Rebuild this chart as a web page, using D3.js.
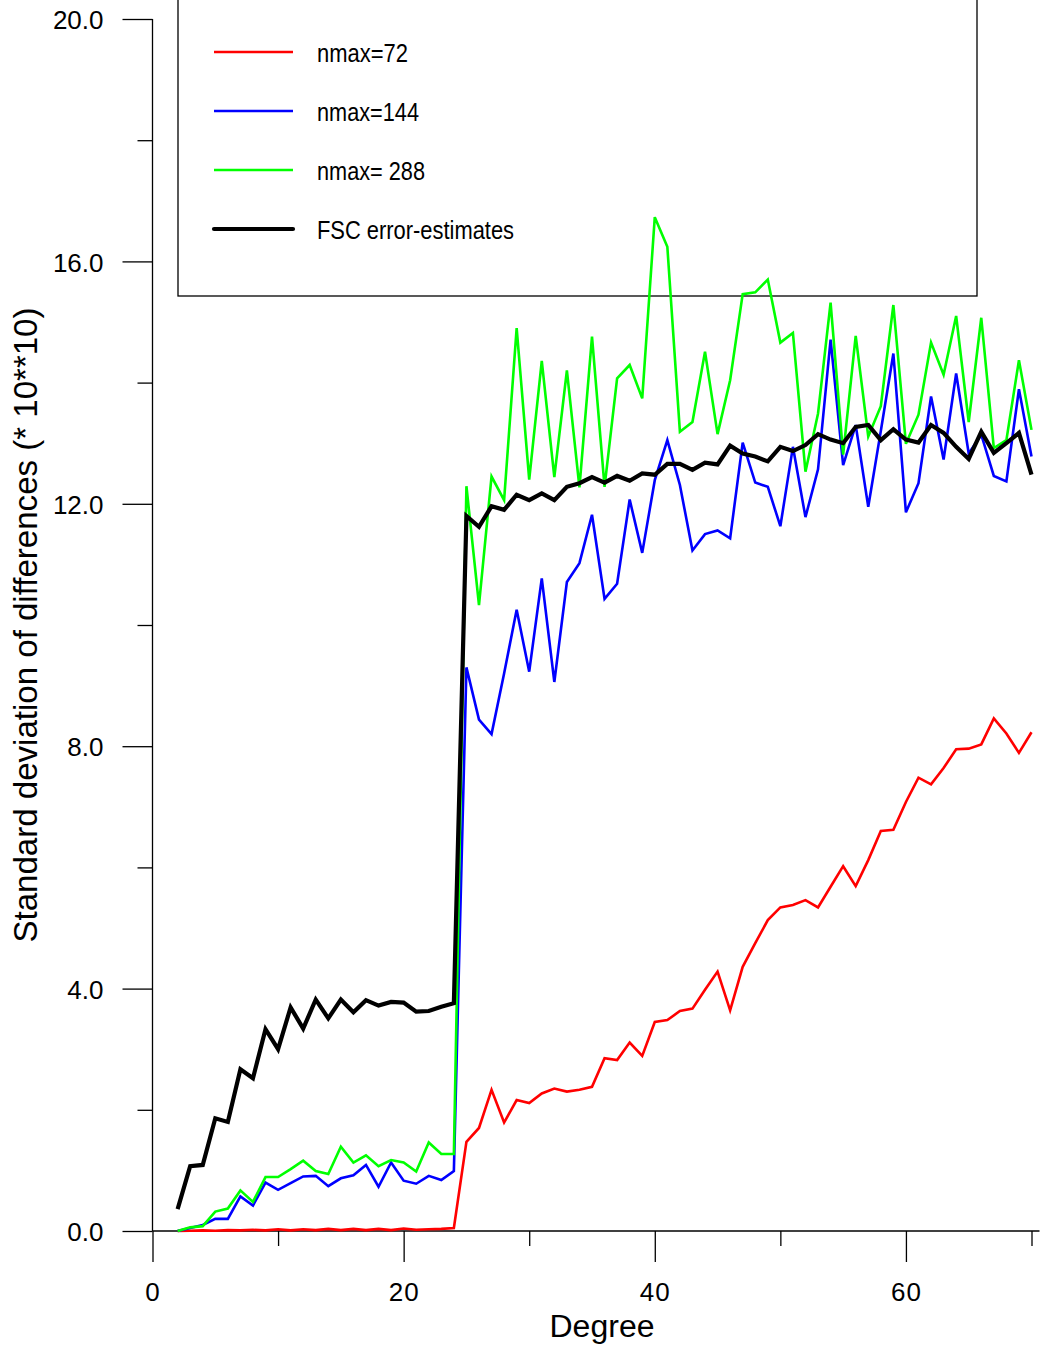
<!DOCTYPE html>
<html>
<head>
<meta charset="utf-8">
<script src="https://cdn.jsdelivr.net/npm/d3@7"></script>
<style>
  html, body { margin: 0; padding: 0; background: #fff; }
  svg { display: block; }
  text { font-family: "Liberation Sans", Arial, sans-serif; fill: #000; }
</style>
</head>
<body>
<svg id="chart" width="1049" height="1351"></svg>
<script>
// ---- data ----
const degrees = [2,3,4,5,6,7,8,9,10,11,12,13,14,15,16,17,18,19,20,21,22,23,24,
  25,26,27,28,29,30,31,32,33,34,35,36,37,38,39,40,41,42,43,44,45,46,47,48,
  49,50,51,52,53,54,55,56,57,58,59,60,61,62,63,64,65,66,67,68,69,70];

const nmax72 = [0.00,0.005,0.01,0.005,0.015,0.01,0.02,0.01,0.03,0.01,0.03,0.015,0.035,0.015,0.035,0.015,0.035,0.015,0.04,0.02,0.03,0.035,0.05,
  1.47,1.70,2.33,1.79,2.16,2.11,2.27,2.35,2.30,2.33,2.38,2.85,2.82,3.11,2.89,3.45,3.48,3.63,3.67,3.98,4.28,3.64,4.36,4.75,
  5.13,5.34,5.38,5.46,5.34,5.68,6.02,5.69,6.12,6.60,6.62,7.08,7.48,7.37,7.64,7.95,7.96,8.03,8.46,8.21,7.89,8.23];

const nmax144 = [0.00,0.05,0.10,0.20,0.20,0.57,0.42,0.80,0.68,0.79,0.90,0.91,0.74,0.87,0.92,1.09,0.73,1.13,0.83,0.78,0.91,0.84,0.99,
  9.30,8.44,8.20,9.20,10.25,9.23,10.77,9.06,10.71,11.02,11.82,10.43,10.68,12.07,11.19,12.39,13.05,12.31,11.23,11.50,11.56,11.43,13.01,12.35,
  12.28,11.63,12.94,11.78,12.57,14.71,12.64,13.30,11.95,13.20,14.48,11.86,12.34,13.77,12.73,14.15,12.83,13.14,12.46,12.37,13.89,12.78];

const nmax288 = [0.00,0.06,0.08,0.32,0.37,0.67,0.48,0.89,0.89,1.02,1.16,0.99,0.94,1.39,1.13,1.25,1.07,1.17,1.13,0.98,1.46,1.27,1.27,
  12.29,10.33,12.45,12.06,14.90,12.40,14.36,12.44,14.20,12.27,14.76,12.28,14.07,14.29,13.74,16.73,16.24,13.19,13.35,14.51,13.15,14.04,15.46,15.49,
  15.70,14.66,14.82,12.53,13.49,15.32,12.81,14.77,13.11,13.61,15.28,12.99,13.47,14.66,14.13,15.10,13.35,15.07,12.92,13.05,14.37,13.22];

const fscError = [0.36,1.07,1.09,1.86,1.80,2.67,2.52,3.33,3.00,3.69,3.34,3.82,3.51,3.82,3.61,3.81,3.72,3.78,3.77,3.62,3.63,3.70,3.76,
  11.80,11.62,11.96,11.90,12.15,12.06,12.17,12.06,12.28,12.34,12.44,12.35,12.46,12.38,12.50,12.48,12.66,12.66,12.56,12.68,12.65,12.96,12.83,12.78,
  12.70,12.94,12.87,12.97,13.15,13.06,13.00,13.27,13.30,13.05,13.23,13.06,13.01,13.30,13.17,12.94,12.74,13.19,12.84,13.00,13.17,12.48];

const seriesNames = ["nmax=72", "nmax=144", "nmax= 288", "FSC error-estimates"];
const seriesColors = ["#ff0000", "#0000ff", "#00ff00", "#000000"];
const seriesWidths = [2.6, 2.6, 2.6, 4.2];
const legendTextLengths = [91, 102, 108, 197];

const xMajorTicks = [0, 20, 40, 60];
const xMinorTicks = [10, 30, 50, 70];
const yMajorTicks = [0, 4, 8, 12, 16, 20];
const yMinorTicks = [2, 6, 10, 14, 18];

const xTitle = "Degree";
const yTitle = "Standard deviation of differences (* 10**10)";

// ---- scales ----
const svg = d3.select("#chart");
const x = d3.scaleLinear().domain([0, 70]).range([152.5, 1031.5]);
const y = d3.scaleLinear().domain([0, 20]).range([1231, 19]);

// ---- legend (drawn first so the data lines pass over its frame) ----
const legend = svg.append("g");
legend.append("rect").attr("x", 178).attr("y", -20).attr("width", 799).attr("height", 316)
  .attr("fill", "none").attr("stroke", "#000").attr("stroke-width", 1.3);
const legendY = d3.scalePoint().domain(seriesNames).range([52, 229]);
seriesNames.forEach((name, k) => {
  legend.append("line")
    .attr("x1", 214).attr("x2", 293)
    .attr("y1", legendY(name)).attr("y2", legendY(name))
    .attr("stroke", seriesColors[k]).attr("stroke-width", seriesWidths[k])
    .attr("stroke-linecap", k === 3 ? "round" : "butt");
  legend.append("text")
    .attr("x", 317).attr("y", legendY(name) + 10)
    .attr("font-size", 26)
    .attr("textLength", legendTextLengths[k]).attr("lengthAdjust", "spacingAndGlyphs")
    .text(name);
});

// ---- axes ----
const axisStyle = g => {
  g.select(".domain").remove();
  g.selectAll(".tick line").attr("stroke", "#000").attr("stroke-width", 1.3);
  g.selectAll("text").attr("font-size", 26).attr("font-family", '"Liberation Sans", Arial, sans-serif');
};

svg.append("g").attr("transform", `translate(${x(0)},0)`)
  .call(d3.axisLeft(y).tickValues(yMajorTicks).tickSize(30).tickSizeOuter(0).tickPadding(19).tickFormat(d3.format(".1f")))
  .call(axisStyle)
  .call(g => g.selectAll("text").attr("dy", "0.37em"));

svg.append("g").attr("transform", `translate(${x(0)},0)`)
  .call(d3.axisLeft(y).tickValues(yMinorTicks).tickSize(15).tickSizeOuter(0).tickFormat(""))
  .call(axisStyle);

svg.append("g").attr("transform", `translate(0,${y(0)})`)
  .call(d3.axisBottom(x).tickValues(xMajorTicks).tickSize(31).tickSizeOuter(0).tickPadding(21).tickFormat(d3.format("d")))
  .call(axisStyle)
  .call(g => g.selectAll("text").attr("letter-spacing", 1));

svg.append("g").attr("transform", `translate(0,${y(0)})`)
  .call(d3.axisBottom(x).tickValues(xMinorTicks).tickSize(15).tickSizeOuter(0).tickFormat(""))
  .call(axisStyle);

// axis lines
svg.append("line").attr("x1", x(0)).attr("x2", x(0)).attr("y1", y(20)).attr("y2", y(0))
  .attr("stroke", "#000").attr("stroke-width", 1.3);
svg.append("line").attr("x1", x(0)).attr("x2", x(70) + 8).attr("y1", y(0)).attr("y2", y(0))
  .attr("stroke", "#000").attr("stroke-width", 1.3);

// titles
svg.append("text").attr("x", 602).attr("y", 1337).attr("text-anchor", "middle")
  .attr("font-size", 31).attr("textLength", 105).attr("lengthAdjust", "spacingAndGlyphs")
  .text(xTitle);

svg.append("text").attr("transform", "translate(37,625) rotate(-90)").attr("text-anchor", "middle")
  .attr("font-size", 32.5).attr("textLength", 635).attr("lengthAdjust", "spacingAndGlyphs")
  .text(yTitle);

// ---- lines ----
const allSeries = [nmax72, nmax144, nmax288, fscError];
const line = d3.line().x((d, i) => x(degrees[i])).y(d => y(d));

allSeries.forEach((vals, k) => {
  svg.append("path").datum(vals)
    .attr("d", line)
    .attr("fill", "none")
    .attr("stroke", seriesColors[k])
    .attr("stroke-width", seriesWidths[k])
    .attr("stroke-linejoin", "miter")
    .attr("stroke-miterlimit", 4);
});
</script>
</body>
</html>
